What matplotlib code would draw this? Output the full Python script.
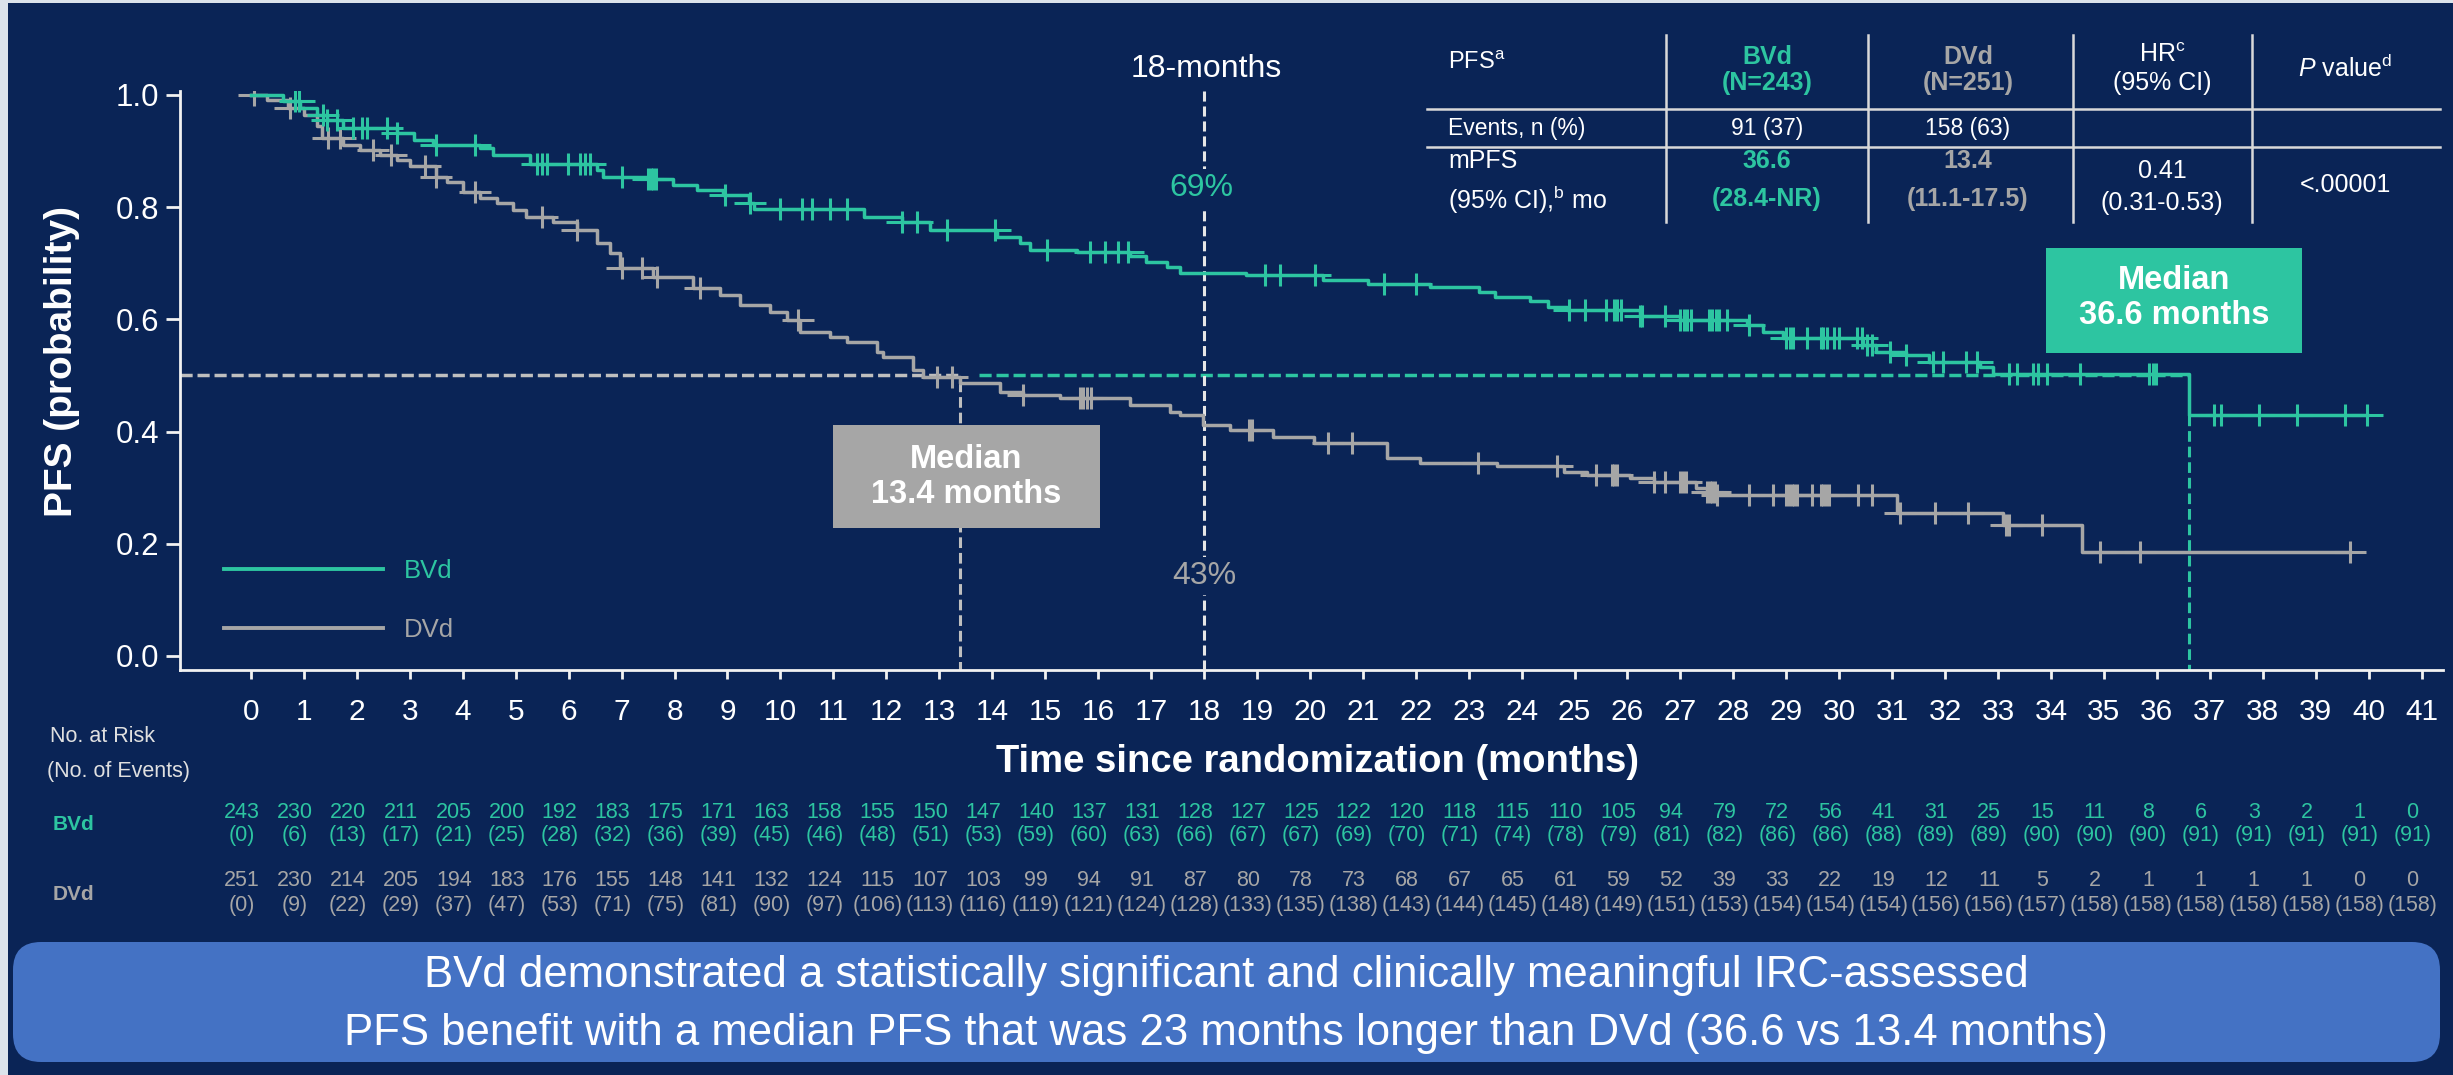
import numpy as np
import matplotlib
matplotlib.use('Agg')
import matplotlib.pyplot as plt
import matplotlib.transforms as mtransforms
from matplotlib.patches import Rectangle, FancyBboxPatch
from matplotlib.lines import Line2D
from matplotlib.path import Path

plt.rcParams['font.family'] = 'Liberation Sans'
plt.rcParams['mathtext.fontset'] = 'custom'
plt.rcParams['mathtext.rm'] = 'Liberation Sans'
plt.rcParams['mathtext.it'] = 'Liberation Sans:italic'
plt.rcParams['mathtext.bf'] = 'Liberation Sans:bold'

NAVY = '#0A2456'
TEAL = '#2DC5A1'
GREY = '#A6A6A6'
BANNER = '#4472C4'

# Kaplan-Meier steps (time of drop, survival after drop)
bvd_t = [0, 0.6, 0.93, 1.24, 1.43, 1.74, 2.75, 3.07, 3.44, 4.33, 4.58, 5.27, 6.53, 6.65,
         7.48, 7.97, 8.42, 8.92, 9.4, 9.5, 11.57, 12.3, 12.83, 14.09, 14.53, 14.72, 15.6,
         16.6, 16.9, 17.3, 17.55, 18.8, 20.25, 21.1, 22.27, 23.2, 23.5, 24.15, 24.5, 24.86,
         26.24, 27.0, 28.26, 28.56, 28.94, 30.45, 30.7, 31.27, 31.7, 32.66, 32.9, 36.6]
bvd_s = [1.0, 0.99, 0.977, 0.964, 0.955, 0.941, 0.932, 0.92, 0.911, 0.905, 0.893, 0.877, 0.866, 0.854,
         0.85, 0.84, 0.83, 0.822, 0.808, 0.797, 0.783, 0.774, 0.76, 0.747, 0.736, 0.724, 0.72,
         0.713, 0.702, 0.693, 0.683, 0.679, 0.670, 0.663, 0.658, 0.649, 0.640, 0.633, 0.622, 0.617,
         0.606, 0.599, 0.59, 0.578, 0.567, 0.554, 0.542, 0.537, 0.524, 0.515, 0.503, 0.43]
bvd_cens = [0.83, 0.9, 1.36, 1.43, 1.62, 1.93, 2.1, 2.19, 2.57, 2.76, 3.5, 4.23, 5.4, 5.5, 5.59,
            5.99, 6.21, 6.31, 6.4, 7.0, 7.5, 7.55, 7.6, 7.65, 8.95, 9.43, 9.99, 10.4, 10.6, 10.94,
            11.26, 12.3, 12.58, 13.15, 14.06, 15.03, 15.85, 16.13, 16.38, 16.57, 19.15, 19.44, 20.1,
            21.4, 22.0, 24.9, 25.2, 25.6, 25.75, 25.8, 25.87, 26.24, 26.27, 26.7, 27.0, 27.07, 27.13,
            27.2, 27.54, 27.6, 27.67, 27.73, 27.88, 28.3, 29.0, 29.07, 29.13, 29.4, 29.65, 29.7,
            29.77, 29.9, 30.0, 30.33, 30.43, 30.52, 30.62, 30.96, 31.27, 31.78, 31.96, 32.4, 32.6,
            33.2, 33.35, 33.66, 33.76, 33.92, 34.55, 35.86, 35.93, 35.99, 37.07, 37.22, 37.92,
            38.64, 39.56, 39.97]

dvd_t = [0, 0.3, 0.7, 1.0, 1.25, 1.35, 1.74, 2.06, 2.44, 2.75, 3.0, 3.5, 3.7, 4.0, 4.33, 4.64,
         4.95, 5.2, 5.7, 6.15, 6.53, 6.78, 6.97, 7.6, 8.35, 8.86, 9.24, 9.8, 10.12, 10.37, 10.94,
         11.26, 11.83, 11.94, 12.5, 12.7, 13.4, 14.15, 14.58, 15.28, 16.6, 17.36, 17.55, 17.98,
         18.5, 19.3, 20.07, 21.46, 22.08, 23.53, 24.8, 25.23, 26.04, 26.5, 27.3, 27.5, 27.7,
         31.1, 33.1, 34.58]
dvd_s = [1.0, 0.991, 0.977, 0.965, 0.945, 0.923, 0.911, 0.902, 0.893, 0.884, 0.873, 0.854, 0.845,
         0.827, 0.816, 0.807, 0.795, 0.783, 0.774, 0.759, 0.736, 0.718, 0.692, 0.676, 0.656, 0.644,
         0.626, 0.613, 0.599, 0.578, 0.569, 0.56, 0.542, 0.533, 0.51, 0.497, 0.487, 0.471, 0.465,
         0.46, 0.447, 0.435, 0.43, 0.412, 0.403, 0.39, 0.38, 0.353, 0.344, 0.339, 0.328, 0.323,
         0.317, 0.31, 0.30, 0.293, 0.287, 0.255, 0.234, 0.185]
dvd_cens = [0.05, 0.74, 1.46, 1.68, 2.3, 2.65, 3.28, 3.5, 4.23, 5.5, 6.15, 7.0, 7.39, 7.67, 8.48,
            10.34, 12.96, 13.24, 14.58, 15.66, 15.72, 15.8, 15.87, 18.85, 18.9, 20.35, 20.8, 23.18,
            24.66, 25.4, 25.7, 25.75, 25.8, 26.5, 26.7, 27.0, 27.05, 27.1, 27.5, 27.55, 27.6, 27.65,
            27.7, 28.3, 28.75, 29.0, 29.05, 29.1, 29.15, 29.2, 29.48, 29.65, 29.7, 29.75, 29.8,
            30.36, 30.62, 31.15, 31.8, 32.43, 33.15, 33.2, 33.83, 34.93, 35.68, 39.65]

median_bvd = 36.6
median_dvd = 13.4
landmark = 18
pct_bvd = '69%'
pct_dvd = '43%'

# number at risk / cumulative events per month
months = list(range(42))
bvd_risk = [243, 230, 220, 211, 205, 200, 192, 183, 175, 171, 163, 158, 155, 150, 147, 140, 137,
            131, 128, 127, 125, 122, 120, 118, 115, 110, 105, 94, 79, 72, 56, 41, 31, 25, 15, 11,
            8, 6, 3, 2, 1, 0]
bvd_events = [0, 6, 13, 17, 21, 25, 28, 32, 36, 39, 45, 46, 48, 51, 53, 59, 60, 63, 66, 67, 67,
              69, 70, 71, 74, 78, 79, 81, 82, 86, 86, 88, 89, 89, 90, 90, 90, 91, 91, 91, 91, 91]
dvd_risk = [251, 230, 214, 205, 194, 183, 176, 155, 148, 141, 132, 124, 115, 107, 103, 99, 94,
            91, 87, 80, 78, 73, 68, 67, 65, 61, 59, 52, 39, 33, 22, 19, 12, 11, 5, 2, 1, 1, 1, 1,
            0, 0]
dvd_events = [0, 9, 22, 29, 37, 47, 53, 71, 75, 81, 90, 97, 106, 113, 116, 119, 121, 124, 128,
              133, 135, 138, 143, 144, 145, 148, 149, 151, 153, 154, 154, 154, 156, 156, 157, 158,
              158, 158, 158, 158, 158, 158]

W, H = 2453, 1075
fig = plt.figure(figsize=(W / 100, H / 100), dpi=100, facecolor=NAVY)


def px(x, y):
    return x / W, 1 - y / H


# thin light frame at left / top edge of the screenshot
fig.add_artist(Rectangle((0, 0), 8, H, transform=mtransforms.IdentityTransform(),
                         fc='#DCE3EB', ec='none'))
fig.add_artist(Rectangle((0, H - 3), W, 3, transform=mtransforms.IdentityTransform(),
                         fc='#DCE3EB', ec='none'))

ax = fig.add_axes([180 / W, 1 - 670 / H, (2443 - 180) / W, (670 - 91) / H])
ax.set_facecolor(NAVY)
ax.set_xlim(-1.341, 41.405)
ax.set_ylim(-0.025, 1.0071)
for s in ['top', 'right']:
    ax.spines[s].set_visible(False)
for s in ['left', 'bottom']:
    ax.spines[s].set_color('#F2F2F2')
    ax.spines[s].set_linewidth(2)

ax.set_xticks(months)
ax.set_xticklabels([str(m) for m in months])
ax.set_yticks([0, 0.2, 0.4, 0.6, 0.8, 1.0])
ax.set_yticklabels(['0.0', '0.2', '0.4', '0.6', '0.8', '1.0'])
ax.tick_params(axis='x', length=6.5, width=2, color='#F2F2F2', labelcolor='white',
               labelsize=21.5, pad=14)
ax.tick_params(axis='y', length=10, width=2, color='#F2F2F2', labelcolor='white',
               labelsize=22.5, pad=5)

cross = Path([(-1.5, 0), (1.5, 0), (0, -1), (0, 1)],
             [Path.MOVETO, Path.LINETO, Path.MOVETO, Path.LINETO])


def km(t, s, cens, color):
    t = np.array(t)
    s = np.array(s)
    c = np.array(cens)
    tt = np.append(t, c.max())
    ss = np.append(s, s[-1])
    ax.step(tt, ss, where='post', color=color, lw=2.5, zorder=4)
    cs = s[np.searchsorted(t, c, side='right') - 1]
    ax.plot(c, cs, ls='none', marker=cross, ms=23, mew=2.2, mec=color, mfc='none', zorder=4)


# median reference lines
ax.plot([ax.get_xlim()[0], median_dvd], [0.5, 0.5], color='#BFBFBF', lw=2.5,
        dashes=(3.5, 1.4), zorder=2)
ax.plot([median_dvd + 0.35, median_bvd], [0.5, 0.5], color=TEAL, lw=2.5,
        dashes=(3.5, 1.4), zorder=2)
ax.plot([median_dvd, median_dvd], [0.49, -0.025], color='#BFBFBF', lw=2.2,
        dashes=(3.5, 1.6), zorder=2)
ax.plot([median_bvd, median_bvd], [0.43, -0.025], color=TEAL, lw=2.2,
        dashes=(3.5, 1.6), zorder=2)
ax.plot([landmark, landmark], [1.0071, -0.025], color='#E6E6E6', lw=2.2,
        dashes=(3.3, 1.6), zorder=3, clip_on=False)

km(dvd_t, dvd_s, dvd_cens, GREY)
km(bvd_t, bvd_s, bvd_cens, TEAL)

ax.text(landmark + 0.04, 1.046, '18-months', color='white', fontsize=23,
        ha='center', va='center', clip_on=False)
ax.text(landmark - 0.05, 0.834, pct_bvd, color=TEAL, fontsize=23, ha='center', va='center',
        zorder=6, bbox=dict(fc=NAVY, ec='none', pad=3))
ax.text(landmark, 0.1426, pct_dvd, color=GREY, fontsize=23, ha='center', va='center',
        zorder=6, bbox=dict(fc=NAVY, ec='none', pad=3))

# median call-out boxes
ax.add_patch(Rectangle((10.99, 0.228), 5.05, 0.184, fc=GREY, ec='none', zorder=5))
ax.text(13.5, 0.319, 'Median\n13.4 months', color='white', fontsize=23.5, fontweight='bold',
        ha='center', va='center', linespacing=1.2, zorder=6)
ax.add_patch(Rectangle((33.91, 0.5401), 4.83, 0.1872, fc=TEAL, ec='none', zorder=5))
ax.text(36.32, 0.638, 'Median\n36.6 months', color='white', fontsize=23.5, fontweight='bold',
        ha='center', va='center', linespacing=1.2, zorder=6)

leg = ax.legend(handles=[Line2D([], [], color=TEAL, lw=2.8), Line2D([], [], color=GREY, lw=2.8)],
                labels=['BVd', 'DVd'], loc='center left', bbox_to_anchor=(0.0194, 0.12),
                frameon=False, fontsize=18.5, handlelength=6.2, handletextpad=0.8,
                labelspacing=1.38, borderpad=0, borderaxespad=0, labelcolor=[TEAL, GREY])

fig.text(*px(62, 361), 'PFS (probability)', rotation=90, color='white', fontsize=28,
         fontweight='bold', ha='center', va='center')
fig.text(*px(1318, 762), 'Time since randomization (months)', color='white', fontsize=27.5,
         fontweight='bold', ha='center', va='center')

# number at risk table
fig.text(*px(50, 736), 'No. at Risk', color='#E0E0E0', fontsize=15.5, ha='left', va='center')
fig.text(*px(47, 772), '(No. of Events)', color='#E0E0E0', fontsize=15.5, ha='left', va='center')
fig.text(*px(53, 825), 'BVd', color=TEAL, fontsize=15, fontweight='bold', ha='left', va='center')
fig.text(*px(53, 894), 'DVd', color=GREY, fontsize=15, fontweight='bold', ha='left', va='center')

blend = mtransforms.blended_transform_factory(ax.transData, fig.transFigure)
for m, r1, e1, r2, e2 in zip(months, bvd_risk, bvd_events, dvd_risk, dvd_events):
    x = m - 0.17
    ax.text(x, 1 - 812 / H, str(r1), transform=blend, color=TEAL, fontsize=15.5,
            ha='center', va='center')
    ax.text(x, 1 - 836 / H, '(%d)' % e1, transform=blend, color=TEAL, fontsize=15.5,
            ha='center', va='center')
    ax.text(x, 1 - 880 / H, str(r2), transform=blend, color=GREY, fontsize=15.5,
            ha='center', va='center')
    ax.text(x, 1 - 906 / H, '(%d)' % e2, transform=blend, color=GREY, fontsize=15.5,
            ha='center', va='center')

# summary table, top right
tc = '#D9D9D9'
for y in [109, 147]:
    fig.add_artist(Line2D([1427 / W, 2440 / W], [1 - y / H] * 2, color=tc, lw=1.8))
for x in [1666, 1868, 2073, 2252]:
    fig.add_artist(Line2D([x / W] * 2, [1 - 35 / H, 1 - 222 / H], color=tc, lw=1.8))

hfs = 18
fig.text(*px(1448, 63), r'PFS$^{\mathrm{a}}$', color='white', fontsize=17, va='center')
fig.text(*px(1448, 128), 'Events, n (%)', color='white', fontsize=16.5, va='center')
fig.text(*px(1448, 161), 'mPFS', color='white', fontsize=hfs, va='center')
fig.text(*px(1448, 200), r'(95% CI),$^{\mathrm{b}}$ mo', color='white', fontsize=hfs, va='center')

fig.text(*px(1767, 57), 'BVd', color=TEAL, fontsize=hfs, fontweight='bold', ha='center', va='center')
fig.text(*px(1767, 83), '(N=243)', color=TEAL, fontsize=hfs, fontweight='bold', ha='center', va='center')
fig.text(*px(1968, 57), 'DVd', color=GREY, fontsize=hfs, fontweight='bold', ha='center', va='center')
fig.text(*px(1968, 83), '(N=251)', color=GREY, fontsize=hfs, fontweight='bold', ha='center', va='center')
fig.text(*px(2162, 55), r'HR$^{\mathrm{c}}$', color='white', fontsize=hfs, ha='center', va='center')
fig.text(*px(2162, 83), '(95% CI)', color='white', fontsize=hfs, ha='center', va='center')
fig.text(*px(2345, 68), r'$\mathit{P}$ value$^{\mathrm{d}}$', color='white', fontsize=hfs,
         ha='center', va='center')

fig.text(*px(1767, 128), '91 (37)', color='white', fontsize=16.5, ha='center', va='center')
fig.text(*px(1968, 128), '158 (63)', color='white', fontsize=16.5, ha='center', va='center')
fig.text(*px(1767, 161), '36.6', color=TEAL, fontsize=hfs, fontweight='bold', ha='center', va='center')
fig.text(*px(1767, 199), '(28.4-NR)', color=TEAL, fontsize=hfs, fontweight='bold', ha='center', va='center')
fig.text(*px(1968, 161), '13.4', color=GREY, fontsize=hfs, fontweight='bold', ha='center', va='center')
fig.text(*px(1968, 199), '(11.1-17.5)', color=GREY, fontsize=hfs, fontweight='bold', ha='center', va='center')
fig.text(*px(2162, 171), '0.41', color='white', fontsize=hfs, ha='center', va='center')
fig.text(*px(2162, 203), '(0.31-0.53)', color='white', fontsize=hfs, ha='center', va='center')
fig.text(*px(2345, 185), '<.00001', color='white', fontsize=hfs, ha='center', va='center')

# conclusion banner
fig.add_artist(FancyBboxPatch((13, H - 1062), 2427, 120, boxstyle='round,pad=0,rounding_size=28',
                              transform=mtransforms.IdentityTransform(), fc=BANNER, ec='none'))
fig.text(*px(1226, 975), 'BVd demonstrated a statistically significant and clinically meaningful '
         'IRC-assessed', color='white', fontsize=31.5, ha='center', va='center')
fig.text(*px(1226, 1033), 'PFS benefit with a median PFS that was 23 months longer than DVd '
         '(36.6 vs 13.4 months)', color='white', fontsize=31.5, ha='center', va='center')

fig.savefig('out.png', dpi=100, facecolor=NAVY)
